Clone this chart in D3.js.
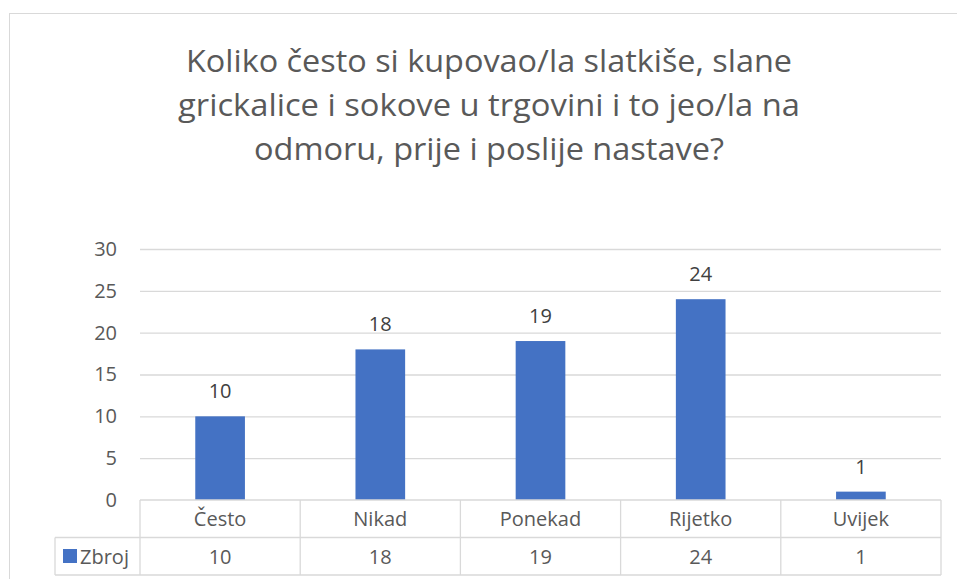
<!DOCTYPE html>
<html>
<head>
<meta charset="utf-8">
<script src="https://cdn.jsdelivr.net/npm/d3@7"></script>
<style>
  body { margin: 0; background: #fff; }
  text { font-family: "Open Sans", sans-serif; }
</style>
</head>
<body>
<div id="chart"></div>
<script>
// data
var categories = ["Često", "Nikad", "Ponekad", "Rijetko", "Uvijek"];
var values = [10, 18, 19, 24, 1];
var seriesName = "Zbroj";
var yTicks = [0, 5, 10, 15, 20, 25, 30];
var titleLines = [
  "Koliko često si kupovao/la slatkiše, slane",
  "grickalice i sokove u trgovini i to jeo/la na",
  "odmoru, prije i poslije nastave?"
];

var W = 957, H = 579;
var plot = {left: 140, right: 941, top: 249, bottom: 500};
var rowH = 37.5;

var svg = d3.select("#chart")
  .append("svg")
    .attr("width", W)
    .attr("height", H);

// chart frame
svg.append("rect")
  .attr("x", 9.5).attr("y", 13.5)
  .attr("width", 980).attr("height", 600)
  .attr("fill", "none")
  .attr("stroke", "#d9d9d9");

// title
var titleWidths = [606, 622, 470];
svg.append("g").selectAll("text")
  .data(titleLines)
  .enter()
  .append("text")
    .attr("x", 489)
    .attr("y", function (d, i) { return 72 + i * 44; })
    .attr("text-anchor", "middle")
    .attr("font-size", 31)
    .attr("fill", "#595959")
    .attr("textLength", function (d, i) { return titleWidths[i]; })
    .attr("lengthAdjust", "spacingAndGlyphs")
    .text(function (d) { return d; });

// scales
var y = d3.scaleLinear()
  .domain([0, 30])
  .range([plot.bottom, plot.top]);

var xCell = d3.scaleBand()
  .domain(categories)
  .range([plot.left, plot.right])
  .padding(0);

var x = d3.scaleBand()
  .domain(categories)
  .range([plot.left, plot.right])
  .paddingInner(0.69)
  .paddingOuter(0.345);

// gridlines
var grid = svg.append("g")
  .attr("transform", "translate(" + plot.left + ",0)")
  .call(d3.axisLeft(y).tickValues(yTicks.slice(1)).tickSize(-(plot.right - plot.left)).tickFormat(""));
grid.select(".domain").remove();
grid.selectAll("line").attr("stroke", "#d9d9d9").attr("stroke-width", 1.3);

// y labels
var yAxis = svg.append("g")
  .attr("transform", "translate(" + plot.left + ",0)")
  .call(d3.axisLeft(y).tickValues(yTicks).tickSize(0).tickPadding(23));
yAxis.select(".domain").remove();
yAxis.selectAll("text")
  .attr("font-family", "Open Sans, sans-serif")
  .attr("font-size", 20)
  .attr("fill", "#595959");

// bars
svg.append("g")
  .selectAll("rect")
  .data(values)
  .enter()
  .append("rect")
    .attr("x", function (d, i) { return x(categories[i]); })
    .attr("y", function (d) { return y(d); })
    .attr("width", x.bandwidth())
    .attr("height", function (d) { return y(0) - y(d); })
    .attr("fill", "#4472c4");

// data labels
svg.append("g")
  .selectAll("text")
  .data(values)
  .enter()
  .append("text")
    .attr("x", function (d, i) { return x(categories[i]) + x.bandwidth() / 2; })
    .attr("y", function (d) { return y(d) - 18; })
    .attr("text-anchor", "middle")
    .attr("font-size", 20)
    .attr("fill", "#404040")
    .text(function (d) { return d; });

// data table
var table = svg.append("g").attr("stroke", "#d9d9d9").attr("stroke-width", 1.3);
var legendLeft = 55;
var r0 = plot.bottom, r1 = plot.bottom + rowH, r2 = plot.bottom + 2 * rowH;
table.append("line").attr("x1", plot.left).attr("x2", plot.right).attr("y1", r0).attr("y2", r0);
table.append("line").attr("x1", legendLeft).attr("x2", plot.right).attr("y1", r1).attr("y2", r1);
table.append("line").attr("x1", legendLeft).attr("x2", plot.right).attr("y1", r2).attr("y2", r2);
table.append("line").attr("x1", legendLeft).attr("x2", legendLeft).attr("y1", r1).attr("y2", r2);
table.selectAll(".vline")
  .data(categories)
  .enter()
  .append("line")
    .attr("x1", function (d) { return xCell(d); })
    .attr("x2", function (d) { return xCell(d); })
    .attr("y1", r0).attr("y2", r2);
table.append("line").attr("x1", plot.right).attr("x2", plot.right).attr("y1", r0).attr("y2", r2);

// category names
svg.append("g")
  .selectAll("text")
  .data(categories)
  .enter()
  .append("text")
    .attr("x", function (d) { return xCell(d) + xCell.bandwidth() / 2; })
    .attr("y", r0 + 26)
    .attr("text-anchor", "middle")
    .attr("font-size", 20)
    .attr("fill", "#595959")
    .text(function (d) { return d; });

// values row
svg.append("g")
  .selectAll("text")
  .data(values)
  .enter()
  .append("text")
    .attr("x", function (d, i) { return xCell(categories[i]) + xCell.bandwidth() / 2; })
    .attr("y", r1 + 26)
    .attr("text-anchor", "middle")
    .attr("font-size", 20)
    .attr("fill", "#595959")
    .text(function (d) { return d; });

// legend key
svg.append("rect")
  .attr("x", 63).attr("y", 549)
  .attr("width", 14).attr("height", 14)
  .attr("fill", "#4472c4");
svg.append("text")
  .attr("x", 80).attr("y", r1 + 26)
  .attr("font-size", 20)
  .attr("fill", "#595959")
  .text(seriesName);
</script>
</body>
</html>
